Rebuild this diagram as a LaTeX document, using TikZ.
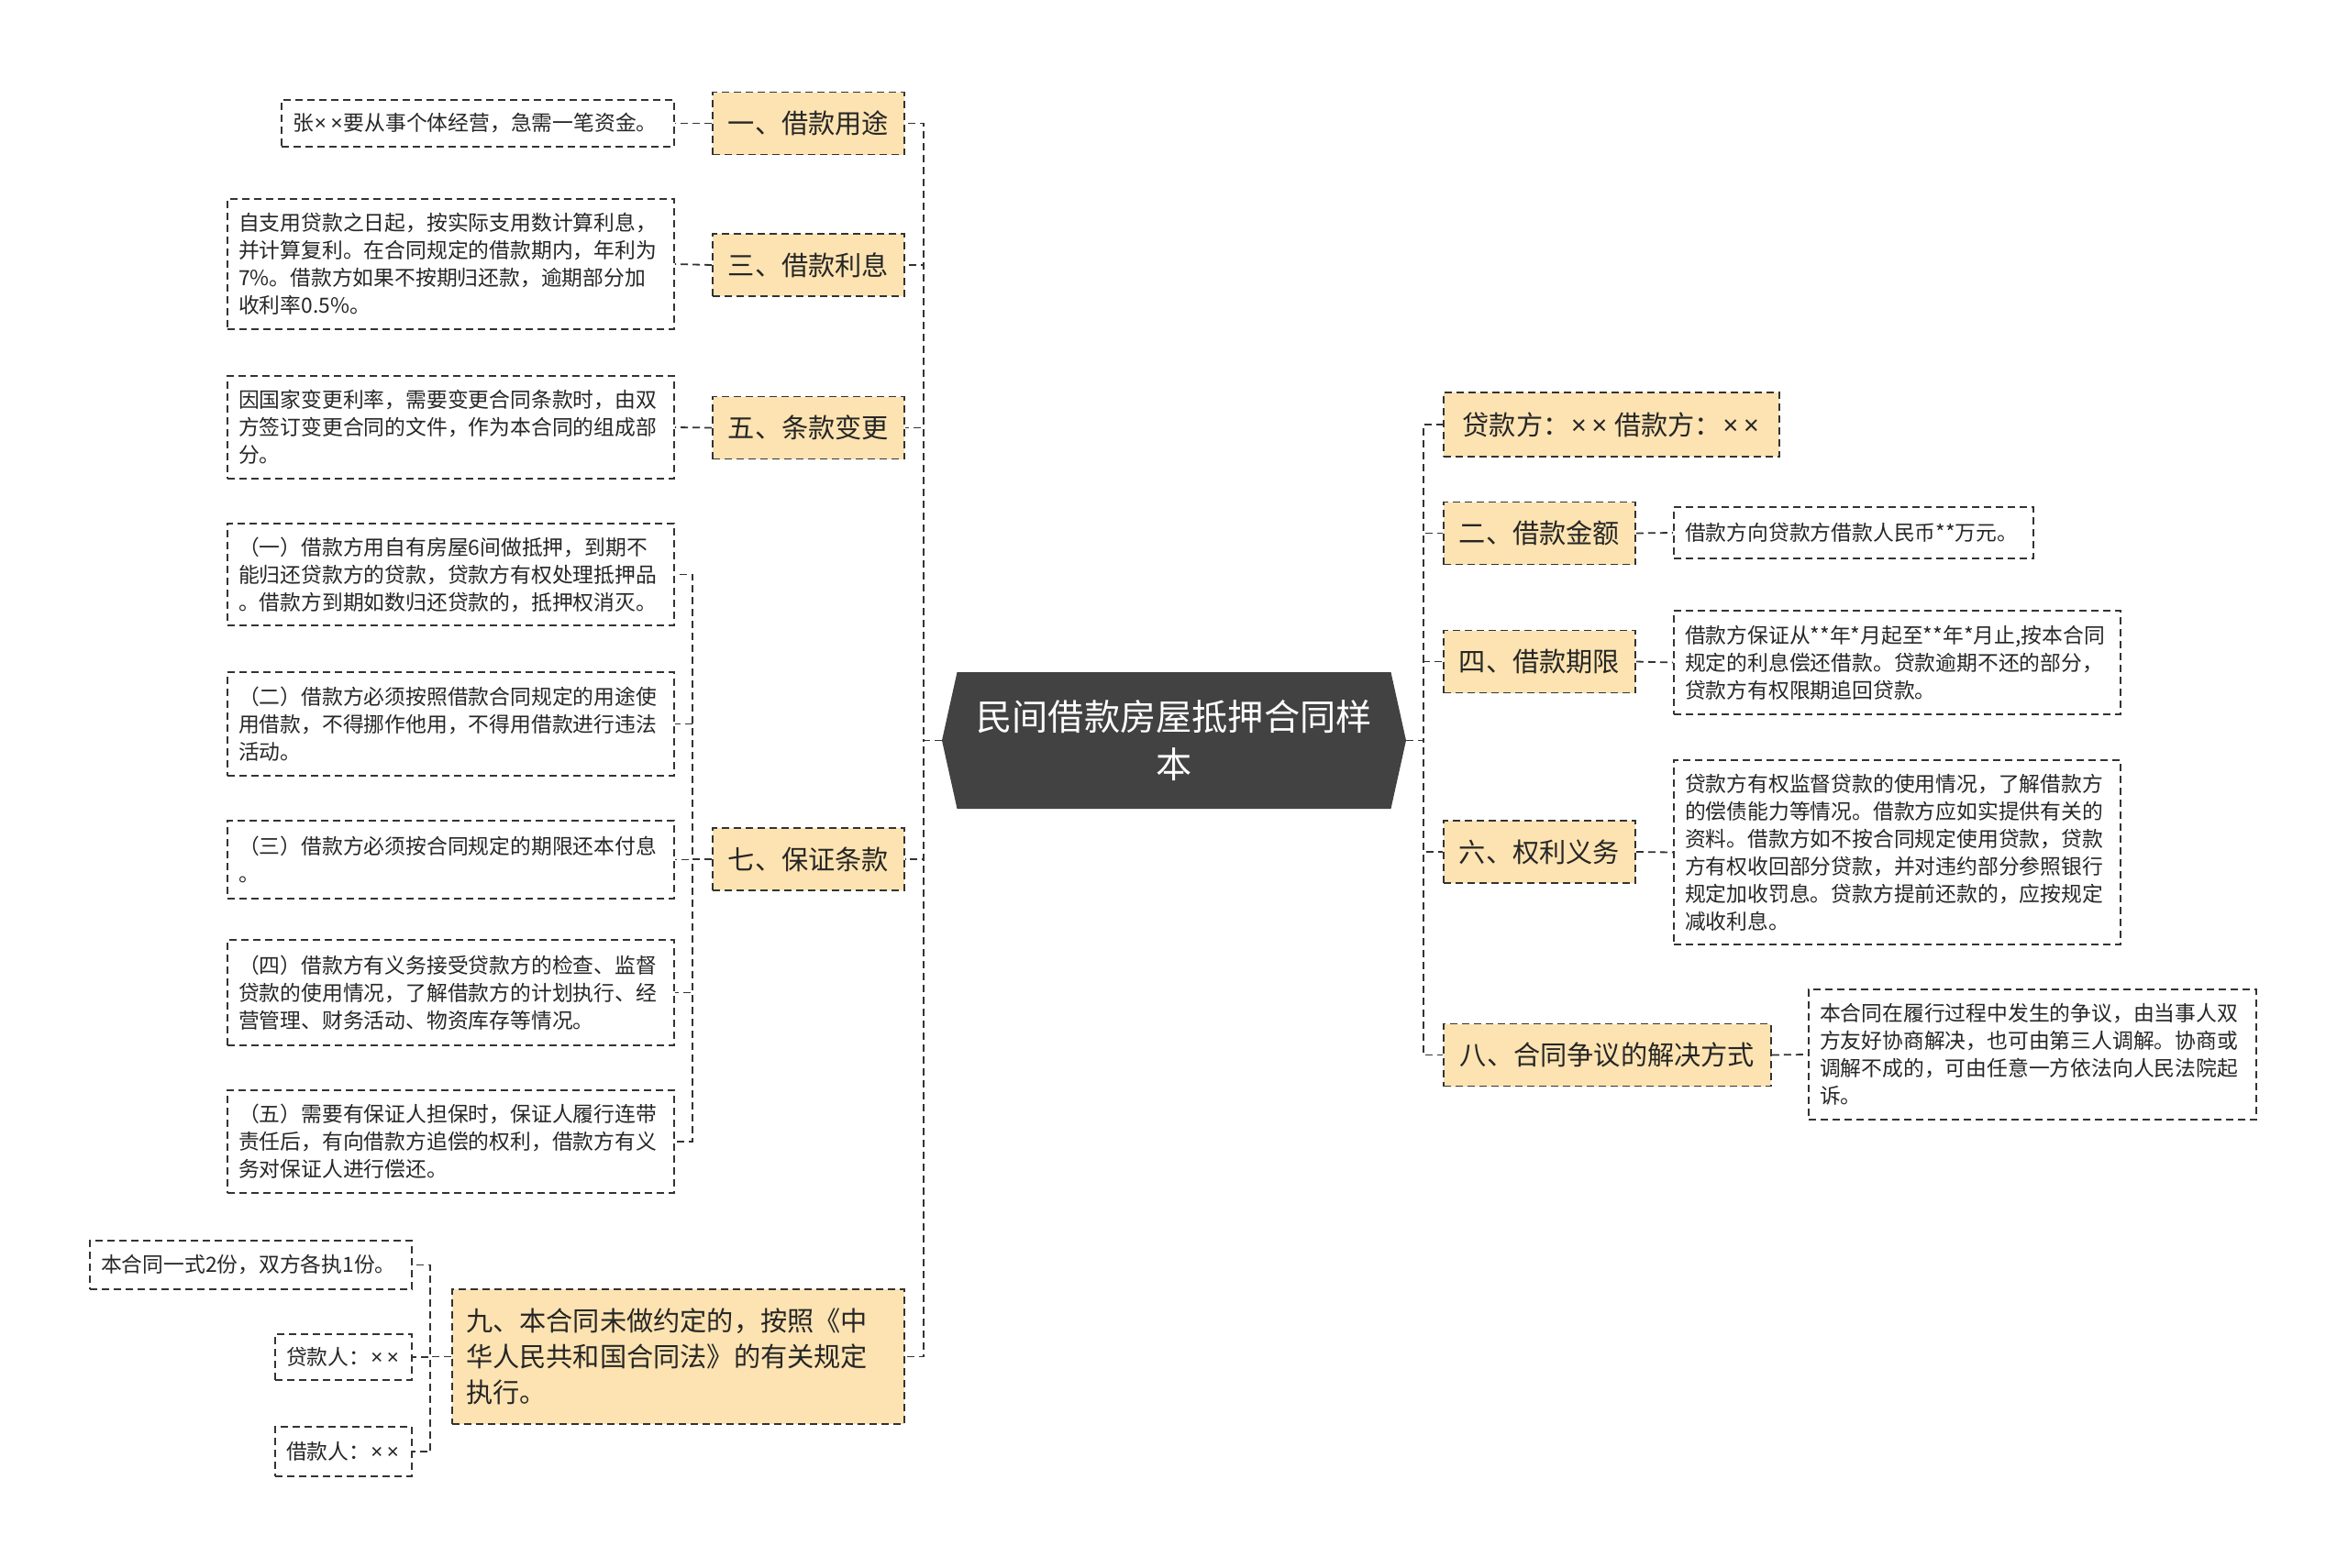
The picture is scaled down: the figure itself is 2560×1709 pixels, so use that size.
\documentclass[tikz,border=0pt]{standalone}
\usepackage{fontspec}
\setmainfont{Noto Sans CJK SC}
\newfontfamily\latinfont{Noto Sans}
\usetikzlibrary{shapes.symbols}
\definecolor{rootgray}{HTML}{424242}
\definecolor{branchfill}{HTML}{FCE3B1}
\definecolor{linegray}{HTML}{333333}
\newcommand{\xmark}{{\latinfont\kern0.05em×\kern0.2em×\kern0.05em}}

\begin{document}
\begin{tikzpicture}[x=0.5pt, y=-0.5pt, every node/.style={text=black!85},
    link/.style={draw=linegray, line width=0.9pt, dash pattern=on 4pt off 2.5pt},
    leaf/.style={link, align=left, inner xsep=6pt, inner ysep=0pt, font=\fontsize{11.4}{15}\selectfont},
    branch/.style={link, fill=branchfill, minimum width=104.5pt, minimum height=34pt, font=\fontsize{14.6}{19.6}\selectfont},
    root/.style={signal, signal to=west and east, signal pointer angle=155, fill=rootgray, text=white, minimum width=253pt, minimum height=74.5pt, align=center, font=\fontsize{19.6}{26}\selectfont}]

    \useasboundingbox (0,0) rectangle (2560,1709);

    \node[root] (root) at (1280,807.5) {民间借款房屋抵押合同样\\本};
    \coordinate (ltrunk) at (1007,807.5);
    \coordinate (rtrunk) at (1552,807.5);

    \node[branch] (b1) at (881.5,134.5) {一、借款用途};
    \node[branch] (b3) at (881.5,289) {三、借款利息};
    \node[branch] (b5) at (881.5,466.5) {五、条款变更};
    \node[branch] (b7) at (881.5,937) {七、保证条款};
    \node[branch, minimum width=246.5pt, minimum height=73.5pt, text width=231.5pt, align=left] (b9) at (739.5,1479.5) {九、本合同未做约定的，按照《中\\华人民共和国合同法》的有关规定\\执行。};

    \node[leaf, text width=202pt, minimum height=25.5pt] (l1) at (521,134.5) {张\xmark 要从事个体经营，急需一笔资金。};
    \node[leaf, text width=231.5pt, minimum height=71pt] (l3) at (491.5,288) {自支用贷款之日起，按实际支用数计算利息，\\并计算复利。在合同规定的借款期内，年利为\\7\%。借款方如果不按期归还款，逾期部分加\\收利率0.5\%。};
    \node[leaf, text width=231.5pt, minimum height=56pt] (l5) at (491.5,466) {因国家变更利率，需要变更合同条款时，由双\\方签订变更合同的文件，作为本合同的组成部\\分。};
    \node[leaf, text width=231.5pt, minimum height=55.5pt] (l71) at (491.5,626.5) {（一）借款方用自有房屋6间做抵押，到期不\\能归还贷款方的贷款，贷款方有权处理抵押品\\。借款方到期如数归还贷款的，抵押权消灭。};
    \node[leaf, text width=231.5pt, minimum height=56.5pt] (l72) at (491.5,789.5) {（二）借款方必须按照借款合同规定的用途使\\用借款，不得挪作他用，不得用借款进行违法\\活动。};
    \node[leaf, text width=231.5pt, minimum height=42.5pt] (l73) at (491.5,937.5) {（三）借款方必须按合同规定的期限还本付息\\。};
    \node[leaf, text width=231.5pt, minimum height=57.5pt] (l74) at (491.5,1082.5) {（四）借款方有义务接受贷款方的检查、监督\\贷款的使用情况，了解借款方的计划执行、经\\营管理、财务活动、物资库存等情况。};
    \node[leaf, text width=231.5pt, minimum height=56pt] (l75) at (491.5,1245) {（五）需要有保证人担保时，保证人履行连带\\责任后，有向借款方追偿的权利，借款方有义\\务对保证人进行偿还。};
    \node[leaf, text width=163.5pt, minimum height=26.5pt] (l91) at (273.5,1379.5) {本合同一式2份，双方各执1份。};
    \node[leaf, text width=62.5pt, minimum height=25pt] (l92) at (374.5,1480) {贷款人：\xmark};
    \node[leaf, text width=62.5pt, minimum height=27pt] (l93) at (374.5,1583) {借款人：\xmark};

    \node[branch, minimum width=183pt, minimum height=35pt] (b0) at (1757,463) {贷款方：\xmark\ 借款方：\xmark};
    \node[branch] (b2) at (1678.5,581.5) {二、借款金额};
    \node[branch] (b4) at (1678.5,721.5) {四、借款期限};
    \node[branch] (b6) at (1678.5,929) {六、权利义务};
    \node[branch, minimum width=178.5pt] (b8) at (1752.5,1150.5) {八、合同争议的解决方式};

    \node[leaf, text width=184pt, minimum height=28pt] (l2) at (2021,581) {借款方向贷款方借款人民币**万元。};
    \node[leaf, text width=231.5pt, minimum height=56.5pt] (l4) at (2068.5,722.5) {借款方保证从**年*月起至**年*月止,按本合同\\规定的利息偿还借款。贷款逾期不还的部分，\\贷款方有权限期追回贷款。};
    \node[leaf, text width=231.5pt, minimum height=100.5pt] (l6) at (2068.5,929.5) {贷款方有权监督贷款的使用情况，了解借款方\\的偿债能力等情况。借款方应如实提供有关的\\资料。借款方如不按合同规定使用贷款，贷款\\方有权收回部分贷款，并对违约部分参照银行\\规定加收罚息。贷款方提前还款的，应按规定\\减收利息。};
    \node[leaf, text width=232pt, minimum height=71pt] (l8) at (2216,1150) {本合同在履行过程中发生的争议，由当事人双\\方友好协商解决，也可由第三人调解。协商或\\调解不成的，可由任意一方依法向人民法院起\\诉。};

    \draw[link] (root.west) -- (ltrunk) |- (b1.east);
    \draw[link] (root.west) -- (ltrunk) |- (b3.east);
    \draw[link] (root.west) -- (ltrunk) |- (b5.east);
    \draw[link] (root.west) -- (ltrunk) |- (b7.east);
    \draw[link] (root.west) -- (ltrunk) |- (b9.east);
    \draw[link] (root.east) -- (rtrunk) |- (b0.west);
    \draw[link] (root.east) -- (rtrunk) |- (b2.west);
    \draw[link] (root.east) -- (rtrunk) |- (b4.west);
    \draw[link] (root.east) -- (rtrunk) |- (b6.west);
    \draw[link] (root.east) -- (rtrunk) |- (b8.west);

    \draw[link] (b1.west) -- (l1.east);
    \draw[link] (b3.west) -- (l3.east);
    \draw[link] (b5.west) -- (l5.east);
    \draw[link] (b7.west) -- ++(-21,0) |- (l71.east);
    \draw[link] (b7.west) -- ++(-21,0) |- (l72.east);
    \draw[link] (b7.west) -- ++(-21,0) |- (l73.east);
    \draw[link] (b7.west) -- ++(-21,0) |- (l74.east);
    \draw[link] (b7.west) -- ++(-21,0) |- (l75.east);
    \draw[link] (b9.west) -- ++(-23,0) |- (l91.east);
    \draw[link] (b9.west) -- ++(-23,0) |- (l92.east);
    \draw[link] (b9.west) -- ++(-23,0) |- (l93.east);
    \draw[link] (b2.east) -- (l2.west);
    \draw[link] (b4.east) -- (l4.west);
    \draw[link] (b6.east) -- (l6.west);
    \draw[link] (b8.east) -- (l8.west);
\end{tikzpicture}
\end{document}
